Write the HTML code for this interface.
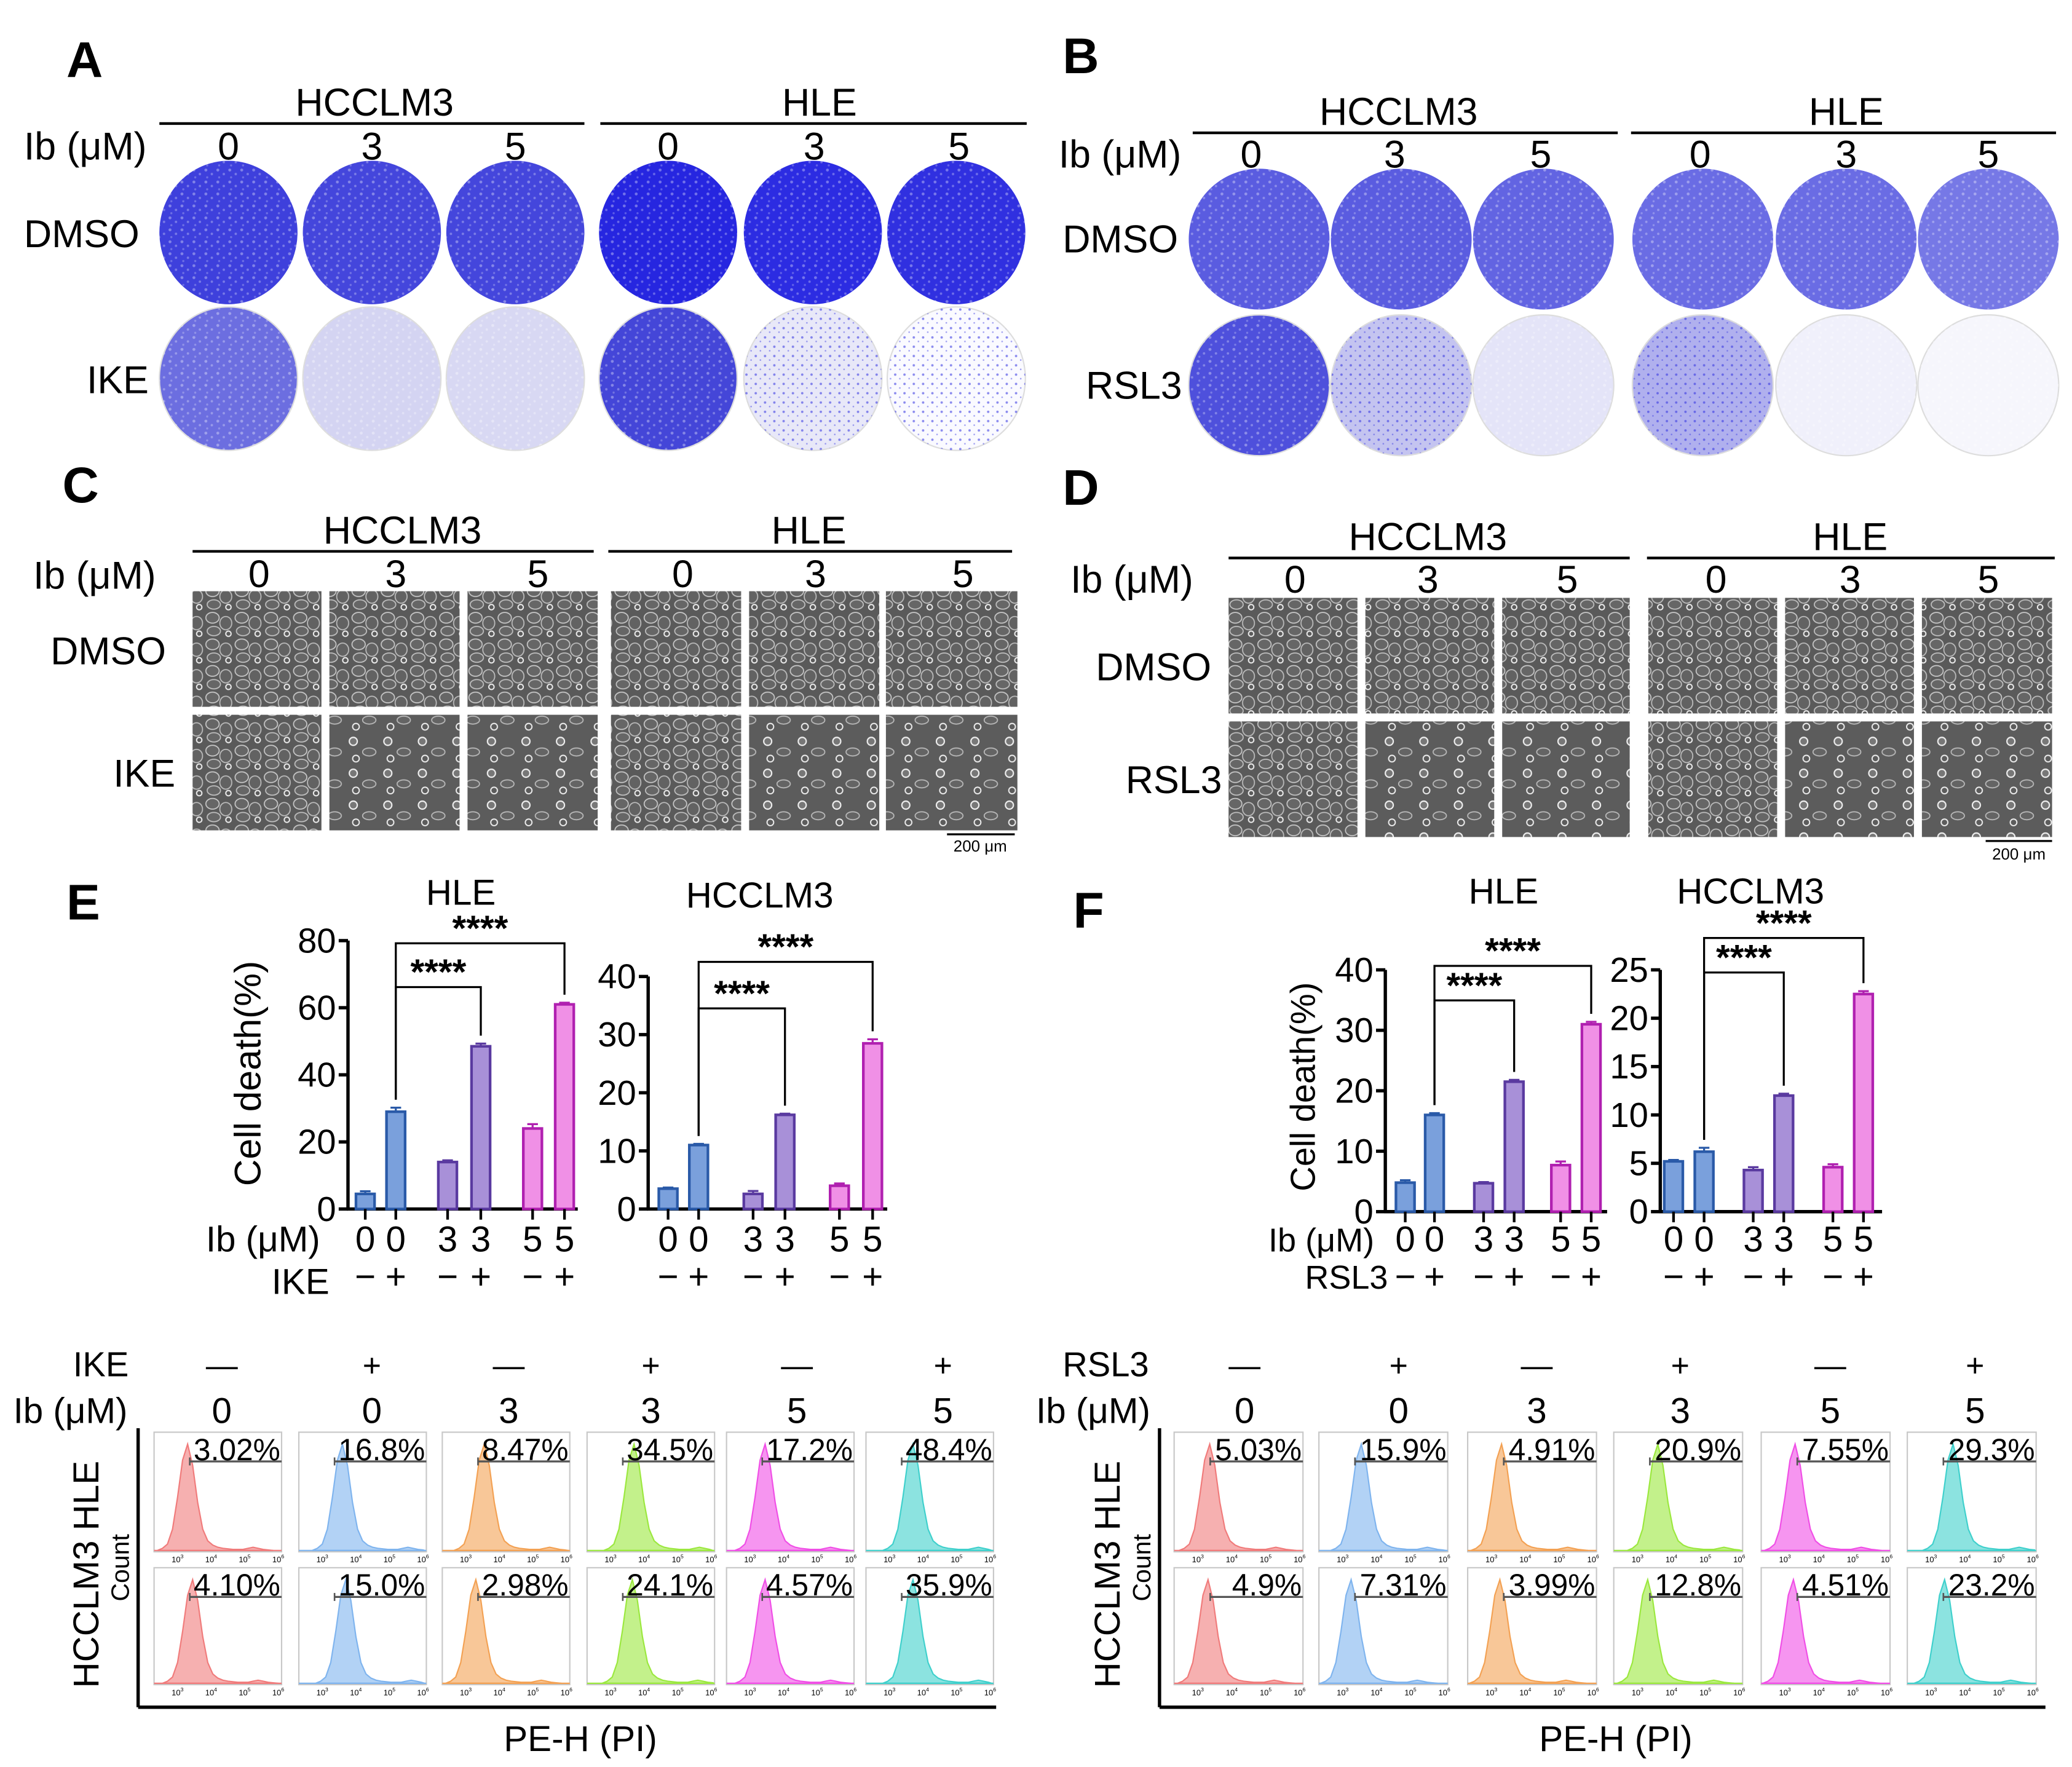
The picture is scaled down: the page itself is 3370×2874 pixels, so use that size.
<!DOCTYPE html>
<html><head><meta charset="utf-8">
<style>
html,body{margin:0;padding:0;background:#fff;}
svg{display:block;font-family:"Liberation Sans",Arial,sans-serif;}
</style></head>
<body>
<svg id="fig" xmlns="http://www.w3.org/2000/svg" width="3370" height="2874" viewBox="0 0 1560 1330" preserveAspectRatio="none">
<defs>
<pattern id="speck" width="9" height="9" patternUnits="userSpaceOnUse">
<circle cx="2" cy="2" r="1.1" fill="#fff" opacity="0.35"/><circle cx="6.5" cy="5" r="0.9" fill="#fff" opacity="0.3"/><circle cx="3" cy="7.5" r="0.8" fill="#fff" opacity="0.25"/>
</pattern>
<pattern id="speckDark" width="7" height="7" patternUnits="userSpaceOnUse">
<circle cx="2" cy="2" r="0.9" fill="#3030e0" opacity="0.55"/><circle cx="5.5" cy="5" r="0.6" fill="#3030e0" opacity="0.45"/>
</pattern>
<pattern id="cells" width="22" height="20" patternUnits="userSpaceOnUse">
<rect width="22" height="20" fill="#5a5a5a"/>
<ellipse cx="6" cy="5" rx="5" ry="4" fill="#666" stroke="#c8c8c8" stroke-width="0.8"/>
<ellipse cx="16" cy="9" rx="4.5" ry="5" fill="#626262" stroke="#bdbdbd" stroke-width="0.8"/>
<ellipse cx="7" cy="15" rx="5" ry="3.5" fill="#666" stroke="#c0c0c0" stroke-width="0.8"/>
<circle cx="18" cy="17" r="2" fill="none" stroke="#eee" stroke-width="0.9"/>
</pattern>
<pattern id="cellsSparse" width="26" height="24" patternUnits="userSpaceOnUse">
<rect width="26" height="24" fill="#5c5c5c"/>
<circle cx="6" cy="6" r="3" fill="#777" stroke="#f0f0f0" stroke-width="1"/>
<ellipse cx="18" cy="14" rx="5" ry="3" fill="#646464" stroke="#bbb" stroke-width="0.8"/>
<circle cx="8" cy="19" r="2.5" fill="none" stroke="#eee" stroke-width="0.9"/>
</pattern>
</defs>
<g id="root"></g>
</svg>
<script>
// ---------- bar chart data ----------
const eHleValues = [4.5, 29, 14, 48.5, 24, 61];
const eHleErr = [0.8, 1.2, 0.5, 0.8, 1.3, 0.5];
const eHccValues = [3.5, 11, 2.6, 16.2, 4.0, 28.5];
const eHccErr = [0.2, 0.2, 0.5, 0.2, 0.4, 0.7];
const fHleValues = [4.8, 16, 4.7, 21.5, 7.7, 31];
const fHleErr = [0.4, 0.3, 0.2, 0.3, 0.6, 0.4];
const fHccValues = [5.2, 6.2, 4.3, 12, 4.6, 22.5];
const fHccErr = [0.15, 0.4, 0.3, 0.2, 0.3, 0.3];
const eHleTicks = [0, 20, 40, 60, 80];
const e30Ticks = [0, 10, 20, 30, 40];
const fHccTicks = [0, 5, 10, 15, 20, 25];
const doseLabels = ["0", "0", "3", "3", "5", "5"];
const drugSigns = ["−", "+", "−", "+", "−", "+"];
// ---------- flow data ----------
const flowLeftPct = [["3.02%","16.8%","8.47%","34.5%","17.2%","48.4%"],["4.10%","15.0%","2.98%","24.1%","4.57%","35.9%"]];
const flowRightPct = [["5.03%","15.9%","4.91%","20.9%","7.55%","29.3%"],["4.9%","7.31%","3.99%","12.8%","4.51%","23.2%"]];
const flowLeftPeak = [[3.0,3.3,3.25,3.4,3.15,3.4],[3.15,3.4,3.0,3.35,3.15,3.4]];
const flowRightPeak = [[3.05,3.25,3.0,3.3,3.0,3.35],[3.0,2.95,2.95,3.0,2.95,3.1]];
const flowColors = ["#f07b7b","#7fb4ee","#f3a153","#9be83e","#f04ee6","#3fd0cc"];
const histShape = [0,0.02,0.06,0.2,0.5,0.85,1,0.8,0.45,0.2,0.09,0.05,0.03,0.02,0.015,0.01,0.01,0.01,0.02,0.03,0.02,0.01,0.005,0];

const NS = "http://www.w3.org/2000/svg";
const root = document.getElementById("root");
function el(tag, attrs, parent) {
  const e = document.createElementNS(NS, tag);
  for (const k in attrs) e.setAttribute(k, attrs[k]);
  (parent || root).appendChild(e);
  return e;
}
function txt(x, y, s, size, anchor, parent, weight) {
  const t = el("text", {x: x, y: y, "font-size": size, "text-anchor": anchor || "middle", fill: "#000", "font-weight": weight || "normal"}, parent);
  t.textContent = s;
  return t;
}
function line(x1, y1, x2, y2, w, parent, color) {
  return el("line", {x1: x1, y1: y1, x2: x2, y2: y2, stroke: color || "#000", "stroke-width": w || 2}, parent);
}

// ---------- panel labels ----------
[["A",50,58],["B",800,55],["C",47,378],["D",800,380],["E",50,692],["F",808,698]].forEach(p => {
  const t = txt(p[1], p[2], p[0], 38, "start", root, "bold");
  
  
});

function header(g, cx1, l1a, l1b, cx2, l2a, l2b, y, nums, numY, ibX, ibY) {
  txt(cx1, y - 6, "HCCLM3", 29, "middle", g);
  line(l1a, y, l1b, y, 2, g);
  txt(cx2, y - 6, "HLE", 29, "middle", g);
  line(l2a, y, l2b, y, 2, g);
  txt(ibX, ibY, "Ib (μM)", 29, "start", g);
  nums.forEach((x, i) => txt(x, numY, ["0","3","5"][i % 3], 29, "middle", g));
}

// ---------- Panel A ----------
const gA = el("g", {});


header(gA, 282, 120, 440, 617, 452, 773, 93, [172,280,388,503,613,722], 120, 18, 120);
txt(18, 186, "DMSO", 29, "start", gA);
txt(112, 296, "IKE", 29, "end", gA);
const aX = [172,280,388,503,612,720];
const aRow1 = ["#3e40dc","#4446dc","#4446dc","#2626e0","#2c2ce2","#3030e0"];
const aRow2 = ["#6c6ee0","#d4d4f2","#d8d8f3","#4446d8","#e8e8f8","#fafaff"];
aX.forEach((x, i) => {
  const c1 = el("ellipse", {cx: x, cy: 175, rx: 52, ry: 54, fill: aRow1[i]}, gA);
  
  
  el("ellipse", {cx: x, cy: 175, rx: 52, ry: 54, fill: "url(#speck)"}, gA);
  const c2 = el("ellipse", {cx: x, cy: 285, rx: 52, ry: 54, fill: aRow2[i], stroke: "#ddd", "stroke-width": 1}, gA);
  
  
  el("ellipse", {cx: x, cy: 285, rx: 52, ry: 54, fill: (i >= 4 ? "url(#speckDark)" : "url(#speck)")}, gA);
});

// ---------- Panel B ----------
const gB = el("g", {});


header(gB, 1053, 898, 1218, 1390, 1228, 1548, 100, [942,1050,1160,1280,1390,1497], 126, 797, 126);
txt(800, 190, "DMSO", 29, "start", gB);
txt(890, 300, "RSL3", 29, "end", gB);
const bX = [948,1055,1162,1282,1390,1497];
const bRow1 = ["#5a5ce0","#5a5ce0","#6264e2","#6a6ce4","#6a6ce4","#7678e6"];
const bRow2 = ["#4e50dc","#c4c4f0","#e4e4f8","#b0b0ee","#f0f0fb","#f6f6fc"];
bX.forEach((x, i) => {
  const c1 = el("ellipse", {cx: x, cy: 180, rx: 53, ry: 53, fill: bRow1[i]}, gB);
  
  
  el("ellipse", {cx: x, cy: 180, rx: 53, ry: 53, fill: "url(#speck)"}, gB);
  const c2 = el("ellipse", {cx: x, cy: 290, rx: 53, ry: 53, fill: bRow2[i], stroke: "#ddd", "stroke-width": 1}, gB);
  
  
  el("ellipse", {cx: x, cy: 290, rx: 53, ry: 53, fill: (i == 1 || i == 3 ? "url(#speckDark)" : "url(#speck)")}, gB);
});

// ---------- Panel C ----------
const gC = el("g", {});


header(gC, 303, 145, 447, 609, 458, 762, 415, [195,298,405,514,614,725], 442, 25, 443);
txt(38, 500, "DMSO", 29, "start", gC);
txt(132, 592, "IKE", 29, "end", gC);
[[145,242],[248,346],[352,450],[460,558],[564,662],[667,766]].forEach((c, i) => {
  const r1 = el("rect", {x: c[0], y: 445, width: c[1]-c[0], height: 87, fill: "url(#cells)"}, gC);
  
  
  const r2 = el("rect", {x: c[0], y: 538, width: c[1]-c[0], height: 87, fill: (i==0||i==3) ? "url(#cells)" : "url(#cellsSparse)"}, gC);
  
  
});
line(713, 628, 764, 628, 1.5, gC);
txt(738, 641, "200 μm", 12, "middle", gC);

// ---------- Panel D ----------
const gD = el("g", {});


header(gD, 1075, 925, 1227, 1393, 1240, 1547, 420, [975,1075,1180,1292,1393,1497], 446, 806, 446);
txt(825, 512, "DMSO", 29, "start", gD);
txt(920, 597, "RSL3", 29, "end", gD);
[[925,1022],[1028,1125],[1131,1227],[1241,1338],[1344,1441],[1447,1545]].forEach((c, i) => {
  const r1 = el("rect", {x: c[0], y: 450, width: c[1]-c[0], height: 87, fill: "url(#cells)"}, gD);
  
  
  const r2 = el("rect", {x: c[0], y: 543, width: c[1]-c[0], height: 87, fill: (i==0||i==3) ? "url(#cells)" : "url(#cellsSparse)"}, gD);
  
  
});
line(1495, 633, 1545, 633, 1.5, gD);
txt(1520, 647, "200 μm", 12, "middle", gD);

// ---------- bar chart ----------
const fills = ["#7aa0dc","#7aa0dc","#a890d8","#a890d8","#f090e6","#f090e6"];
const strokes = ["#2a5aa8","#2a5aa8","#5a3aa0","#5a3aa0","#b020b0","#b020b0"];
function barChart(o) {
  const g = el("g", {});
  
  
  const y = v => o.y0 - (v / o.max) * (o.y0 - o.yTop);
  txt(o.titleX, o.titleY, o.title, 27, "middle", g);
  line(o.x0, o.yTop, o.x0, o.y0 + 1, 2.5, g);
  line(o.x0 - 1, o.y0, o.xEnd, o.y0, 2.5, g);
  o.ticks.forEach(t => {
    line(o.x0 - 7, y(t), o.x0, y(t), 2.5, g);
    const tl = txt(o.x0 - 9, y(t) + 9, String(t), 26, "end", g);
    
    
  });
  o.values.forEach((v, i) => {
    const cx = o.xs[i];
    const b = el("rect", {x: cx - 7, y: y(v), width: 14, height: o.y0 - y(v), fill: fills[i], stroke: strokes[i], "stroke-width": 2}, g);
    
    
    const ey = y(v + o.err[i]);
    line(cx, y(v), cx, ey, 1.5, g, strokes[i]);
    line(cx - 4, ey, cx + 4, ey, 1.5, g, strokes[i]);
    line(cx, o.y0, cx, o.y0 + 8, 2, g);
    txt(cx, o.numY, doseLabels[i], 27, "middle", g);
    txt(cx, o.signY, drugSigns[i], 27, "middle", g);
  });
  o.brackets.forEach(br => {
    const a = o.xs[br[0]], b = o.xs[br[1]], top = br[2];
    const p = el("path", {d: `M${a},${y(o.values[br[0]] + o.err[br[0]]) - 6} V${top} H${b} V${y(o.values[br[1]] + o.err[br[1]]) - 6}`, fill: "none", stroke: "#000", "stroke-width": 1.5}, g);
    
    
    txt((a + b) / 2, top - 2, "****", 27, "middle", g, "bold");
  });
  return g;
}
barChart({name:"chart-e-hle", title:"HLE", titleX:347, titleY:681, x0:262, xEnd:435, y0:910, yTop:708, max:80, ticks:eHleTicks,
  values:eHleValues, err:eHleErr, xs:[275,298,337,362,401,425], numY:942, signY:970, brackets:[[1,3,743],[1,5,710]]});
barChart({name:"chart-e-hccLM3", title:"HCCLM3", titleX:572, titleY:683, x0:488, xEnd:668, y0:910, yTop:735, max:40, ticks:e30Ticks,
  values:eHccValues, err:eHccErr, xs:[503,526,567,591,632,657], numY:942, signY:970, brackets:[[1,3,759],[1,5,724]]});
barChart({name:"chart-f-hle", title:"HLE", titleX:1132, titleY:680, x0:1043, xEnd:1210, y0:912, yTop:730, max:40, ticks:e30Ticks,
  values:fHleValues, err:fHleErr, xs:[1058,1080,1117,1140,1175,1198], numY:942, signY:970, brackets:[[1,3,753],[1,5,727]]});
barChart({name:"chart-f-hccLM3", title:"HCCLM3", titleX:1318, titleY:680, x0:1250, xEnd:1417, y0:912, yTop:730, max:25, ticks:fHccTicks,
  values:fHccValues, err:fHccErr, xs:[1260,1283,1320,1343,1380,1403], numY:942, signY:970, brackets:[[1,3,732],[1,5,706]]});
let t;
t = txt(0, 0, "Cell death(%)", 28, "middle"); t.setAttribute("transform", "translate(196,808) rotate(-90)");
 
t = txt(0, 0, "Cell death(%)", 26, "middle"); t.setAttribute("transform", "translate(990,818) rotate(-90)");
 
txt(155, 942, "Ib (μM)", 27, "start");
txt(248, 974, "IKE", 27, "end");
txt(955, 942, "Ib (μM)", 25, "start");
txt(1045, 970, "RSL3", 25, "end");

// ---------- flow cytometry ----------
function flowBlock(o) {
  const g = el("g", {});
  
  
  txt(o.drugX, 1036, o.drug, 26, "start", g);
  txt(o.ibX, 1071, "Ib (μM)", 27, "start", g);
  o.colX.forEach((x, i) => {
    txt(x, 1036, drugSigns[i] === "−" ? "—" : "+", 24, "middle", g);
    txt(x, 1071, doseLabels[i], 27, "middle", g);
  });
  line(o.axX, 1075, o.axX, o.axY, 2.5, g);
  line(o.axX, o.axY, o.axEnd, o.axY, 2.5, g);
  let a = txt(0, 0, "HCCLM3  HLE", 27, "middle", g); a.setAttribute("transform", `translate(${o.axX - 30},1185) rotate(-90)`);
  a = txt(0, 0, "Count", 19, "middle", g); a.setAttribute("transform", `translate(${o.axX - 7},1180) rotate(-90)`);
  txt((o.axX + o.axEnd) / 2 + 10, 1318, "PE-H (PI)", 27, "middle", g);
  const rows = [[1078,1168],[1180,1268]];
  rows.forEach((r, ri) => {
    o.boxX.forEach((bx, ci) => {
      const w = o.boxW;
      const h = r[1] - r[0];
      const box = el("rect", {x: bx, y: r[0], width: w, height: h, fill: "#fff", stroke: "#c8c8c8", "stroke-width": 1}, g);
      
      
      const xs = lv => bx + (lv - 2.3) / 3.8 * w;
      const base = r[1] - 1;
      const hh = h - 10;
      const peak = o.peaks[ri][ci];
      let d = `M${xs(peak - 0.6)},${base}`;
      histShape.forEach((v, k) => {
        const lv = peak - 0.6 + k * 0.15;
        if (lv > 6.05) return;
        d += ` L${xs(lv).toFixed(2)},${(base - v * hh).toFixed(2)}`;
      });
      d += ` L${xs(Math.min(6.05, peak - 0.6 + (histShape.length - 1) * 0.15))},${base} Z`;
      const hp = el("path", {d: d, fill: flowColors[ci], "fill-opacity": 0.6, stroke: flowColors[ci], "stroke-width": 1}, g);
      
      
      line(bx, base, bx + w, base, 1, g, flowColors[ci]);
      [3,4,5,6].forEach(e => {
        if (xs(e) <= bx + w + 1) {
          const tk = txt(xs(e), r[1] + 8, "10" , 6, "middle", g);
          const sp = document.createElementNS(NS, "tspan"); sp.setAttribute("font-size", 4); sp.setAttribute("dy", -3); sp.textContent = String(e); tk.appendChild(sp);
        }
      });
      const gx = bx + w * 0.28;
      line(gx, r[0] + 22, bx + w, r[0] + 22, 1.5, g, "#555");
      line(gx, r[0] + 19, gx, r[0] + 25, 1.2, g, "#555");
      const pt = txt(bx + w - 1, r[0] + 21, o.pct[ri][ci], 23, "end", g);
      
      
    });
  });
}
flowBlock({name:"flow-ike", drug:"IKE", drugX:55, ibX:10, colX:[167,280,383,490,600,710], axX:104, axY:1285, axEnd:750,
  boxX:[116,225,333,442,547,652], boxW:96, pct:flowLeftPct, peaks:flowLeftPeak});
flowBlock({name:"flow-rsl3", drug:"RSL3", drugX:800, ibX:780, colX:[937,1053,1157,1265,1378,1487], axX:873, axY:1285, axEnd:1540,
  boxX:[884,993,1105,1215,1326,1436], boxW:97, pct:flowRightPct, peaks:flowRightPeak});
</script>
</body></html>
